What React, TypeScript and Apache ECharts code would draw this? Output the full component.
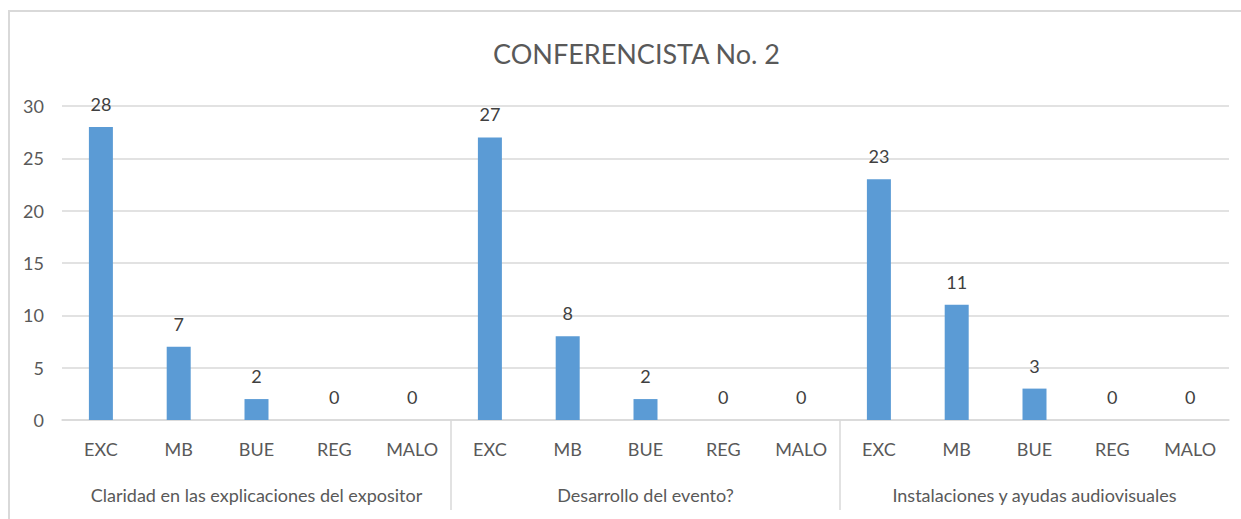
import React, { useEffect, useRef } from "react";
import * as echarts from "echarts";

const title = "CONFERENCISTA No. 2";
const ratings = ["EXC", "MB", "BUE", "REG", "MALO"];
const groups = [
  "Claridad en las explicaciones del expositor",
  "Desarrollo del evento?",
  "Instalaciones y ayudas audiovisuales",
];
const groupValues = [
  [28, 7, 2, 0, 0],
  [27, 8, 2, 0, 0],
  [23, 11, 3, 0, 0],
];
const yTicks = { min: 0, max: 30, interval: 5 };

const FONT = "Lato, sans-serif";

export default function App() {
  const ref = useRef<HTMLDivElement>(null);
  useEffect(() => {
    document.body.style.margin = "0";
    if (!ref.current) return;
    const chart = echarts.init(ref.current, undefined, { renderer: "svg" });
    const categories: string[] = [];
    const values: number[] = [];
    groups.forEach((g, gi) => {
      ratings.forEach((r, ri) => {
        categories.push(r);
        values.push(groupValues[gi][ri]);
      });
    });
    const boundaries: number[][] = [];
    for (let gi = 1; gi < groups.length; gi++) boundaries.push([gi * ratings.length, 0]);

    chart.setOption({
      animation: false,
      textStyle: { fontFamily: FONT },
      title: {
        text: title,
        left: 488,
        top: 35,
        textStyle: { fontFamily: FONT, fontSize: 27, fontWeight: "normal", color: "#595959" },
      },
      graphic: [
        {
          type: "rect",
          shape: { x: 9, y: 11, width: 1400, height: 700 },
          style: { fill: "none", stroke: "#d9d9d9", lineWidth: 2 },
          silent: true,
        },
      ],
      grid: { left: 62, right: 12, top: 106, bottom: 99 },
      xAxis: [
        {
          type: "category",
          data: categories,
          axisLine: { lineStyle: { color: "#d9d9d9", width: 1.5 } },
          axisTick: { show: false },
          axisLabel: { color: "#595959", fontSize: 18, margin: 20, fontFamily: FONT, interval: 0 },
        },
        {
          type: "category",
          data: groups,
          position: "bottom",
          axisLine: { show: false },
          axisTick: { show: false },
          axisLabel: { color: "#595959", fontSize: 18, margin: 66, fontFamily: FONT, interval: 0 },
        },
      ],
      yAxis: {
        type: "value",
        ...yTicks,
        axisLine: { show: false },
        axisTick: { show: false },
        splitLine: { lineStyle: { color: "#d9d9d9", width: 1.5 } },
        axisLabel: { color: "#595959", fontSize: 18, margin: 18, fontFamily: FONT },
      },
      series: [
        {
          type: "bar",
          data: values,
          barWidth: 24,
          itemStyle: { color: "#5b9bd5" },
          label: {
            show: true,
            position: "top",
            distance: 14,
            color: "#404040",
            fontSize: 18,
            fontFamily: FONT,
          },
        },
        {
          type: "custom",
          data: boundaries,
          silent: true,
          renderItem: (params: any, api: any) => {
            const idx = api.value(0);
            const a = api.coord([idx - 1, 0]);
            const b = api.coord([idx, 0]);
            const x = (a[0] + b[0]) / 2;
            return {
              type: "line",
              shape: { x1: x, y1: a[1], x2: x, y2: a[1] + 90 },
              style: { stroke: "#d9d9d9", lineWidth: 1.5 },
            };
          },
        },
      ],
    });
    return () => chart.dispose();
  }, []);
  return <div ref={ref} style={{ width: 1241, height: 519 }} />;
}
